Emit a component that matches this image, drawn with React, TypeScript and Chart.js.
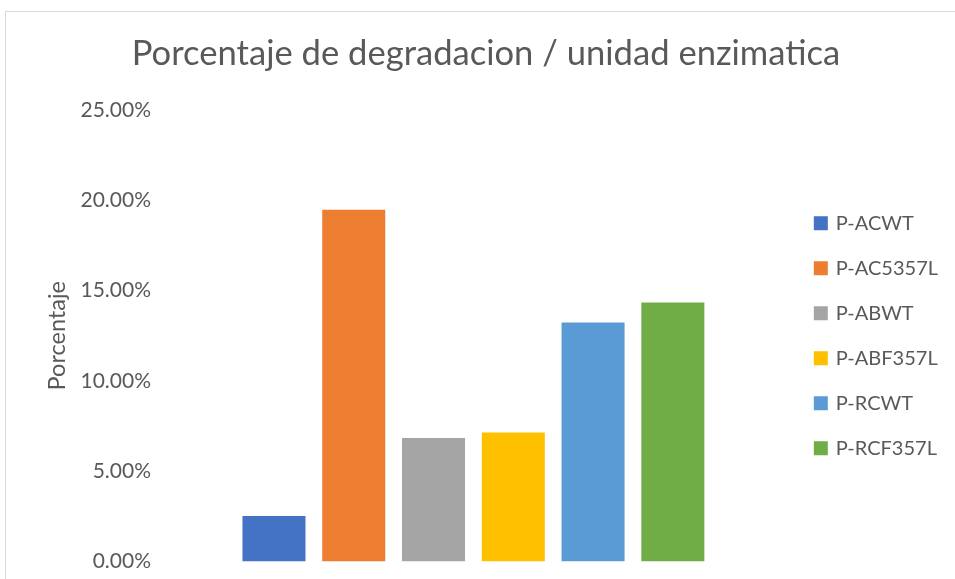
import React, { useEffect, useRef } from "react";
import { Chart, registerables } from "chart.js";

Chart.register(...registerables);

// One category, six series (one bar each)
const categories = [""];
const seriesNames = ["P-ACWT", "P-AC5357L", "P-ABWT", "P-ABF357L", "P-RCWT", "P-RCF357L"];
const seriesValues = [2.51, 19.48, 6.84, 7.14, 13.23, 14.34];
const seriesColors = ["#4472C4", "#ED7D31", "#A5A5A5", "#FFC000", "#5B9BD5", "#70AD47"];
const yMin = 0;
const yMax = 25;
const yStep = 5;

const TEXT = "#595959";
const FONT = "Lato, 'Open Sans', sans-serif";

// white page with a thin light frame around the chart
const framePlugin = {
  id: "frame",
  beforeDraw(chart: Chart) {
    const { ctx, width, height } = chart;
    ctx.save();
    ctx.fillStyle = "#ffffff";
    ctx.fillRect(0, 0, width, height);
    ctx.strokeStyle = "#d9d9d9";
    ctx.lineWidth = 1;
    ctx.strokeRect(5.5, 11.5, width + 20, height + 20);
    ctx.restore();
  },
};

export default function App() {
  const canvasRef = useRef<HTMLCanvasElement | null>(null);

  useEffect(() => {
    if (!canvasRef.current) return;
    const chart = new Chart(canvasRef.current, {
      type: "bar",
      data: {
        labels: categories,
        datasets: seriesNames.map((name, i) => ({
          label: name,
          data: [seriesValues[i]],
          backgroundColor: seriesColors[i],
          borderColor: seriesColors[i],
          borderWidth: 0,
          categoryPercentage: 0.754,
          barPercentage: 0.79,
        })),
      },
      options: {
        responsive: false,
        animation: false,
        layout: { padding: { left: 24, right: 7, top: 0, bottom: 8.4 } },
        plugins: {
          title: {
            display: true,
            text: "Porcentaje de degradacion / unidad enzimatica",
            color: TEXT,
            font: { family: FONT, size: 34.6, weight: "normal" },
            padding: { top: 33.5, bottom: 35 },
          },
          legend: {
            position: "right",
            align: "center",
            fullSize: false,
            labels: {
              color: TEXT,
              font: { family: FONT, size: 20 },
              boxWidth: 10,
              boxHeight: 10,
              padding: 25,
              generateLabels(chart: Chart) {
                return chart.data.datasets.map((ds: any, i: number) => ({
                  text: ds.label,
                  fillStyle: ds.backgroundColor,
                  strokeStyle: ds.backgroundColor,
                  lineWidth: 4,
                  fontColor: TEXT,
                  hidden: false,
                  datasetIndex: i,
                }));
              },
            },
          },
          tooltip: { enabled: false },
        },
        scales: {
          x: { display: false },
          y: {
            min: yMin,
            max: yMax,
            afterFit(scale: any) {
              scale.width = 132;
            },
            grid: { display: false, drawTicks: false },
            border: { display: false },
            ticks: {
              stepSize: yStep,
              padding: 5,
              color: TEXT,
              font: { family: FONT, size: 21 },
              callback: (v: any) => Number(v).toFixed(2) + "%",
            },
            title: {
              display: true,
              text: "Porcentaje",
              color: TEXT,
              font: { family: FONT, size: 23.5 },
              padding: { top: 19, bottom: 0 },
            },
          },
        },
      },
      plugins: [framePlugin],
    });
    return () => chart.destroy();
  }, []);

  return (
    <div style={{ position: "absolute", left: 0, top: 0, width: 955, height: 579 }}>
      <canvas ref={canvasRef} width={955} height={579} />
    </div>
  );
}
